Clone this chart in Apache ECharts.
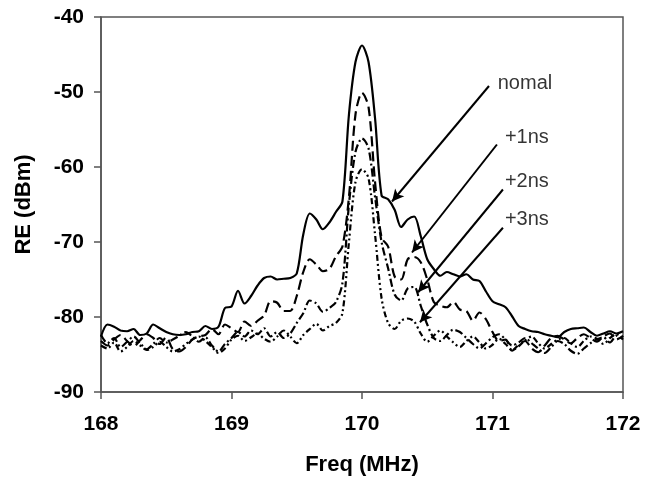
<!DOCTYPE html>
<html>
<head>
<meta charset="utf-8">
<script src="https://cdn.jsdelivr.net/npm/echarts@6/dist/echarts.min.js"></script>
<style>html,body{margin:0;padding:0;background:#fff;}#c{width:657px;height:481px;}</style>
</head>
<body>
<div id="c"></div>
<script>
var freq = [168.00,168.05,168.10,168.15,168.20,168.25,168.30,168.35,168.40,168.45,
168.50,168.55,168.60,168.65,168.70,168.75,168.80,168.85,168.90,168.95,
169.00,169.05,169.10,169.15,169.20,169.25,169.30,169.35,169.40,169.45,
169.50,169.55,169.60,169.65,169.70,169.75,169.80,169.85,169.90,169.95,
170.00,170.05,170.10,170.15,170.20,170.25,170.30,170.35,170.40,170.45,
170.50,170.55,170.60,170.65,170.70,170.75,170.80,170.85,170.90,170.95,
171.00,171.05,171.10,171.15,171.20,171.25,171.30,171.35,171.40,171.45,
171.50,171.55,171.60,171.65,171.70,171.75,171.80,171.85,171.90,171.95,172.00];

var normal = [-82.6,-81.0,-81.3,-81.8,-81.9,-81.6,-82.4,-82.2,-81.0,-81.5,
-82.0,-82.3,-82.4,-82.3,-82.0,-81.9,-81.2,-81.6,-81.3,-78.8,
-78.6,-76.5,-78.2,-77.2,-75.8,-74.8,-74.6,-75.0,-74.9,-74.8,
-74.2,-69.0,-66.2,-67.0,-68.3,-67.4,-66.0,-64.6,-53.0,-46.0,
-43.8,-46.0,-53.5,-63.8,-64.3,-65.7,-68.0,-67.0,-66.6,-69.2,
-72.3,-73.6,-74.5,-74.0,-74.3,-74.6,-74.3,-75.0,-75.2,-76.6,
-77.9,-78.3,-78.7,-79.9,-81.2,-81.6,-81.9,-82.0,-82.3,-82.5,
-82.7,-82.0,-81.6,-81.5,-81.4,-82.0,-82.5,-82.2,-81.9,-82.2,-81.9];

var ns1 = [-83.2,-83.8,-83.0,-82.4,-83.2,-83.9,-83.1,-82.3,-82.8,-83.6,
-82.7,-84.3,-84.6,-84.0,-83.0,-82.6,-82.4,-81.6,-82.3,-81.0,
-81.5,-82.0,-80.6,-81.2,-80.5,-79.8,-77.9,-78.1,-79.2,-79.2,
-77.2,-74.0,-72.3,-73.0,-73.9,-73.6,-71.9,-70.6,-64.0,-53.0,
-50.1,-52.0,-62.0,-69.4,-70.6,-74.6,-75.0,-72.3,-72.0,-72.7,
-75.0,-78.0,-78.5,-78.7,-78.0,-79.0,-79.2,-80.5,-79.4,-80.3,
-82.0,-83.2,-83.0,-84.5,-83.7,-83.2,-84.2,-84.7,-83.8,-82.8,
-82.5,-83.0,-83.5,-82.8,-82.3,-82.8,-83.3,-82.6,-82.2,-83.0,-82.5];

var ns2 = [-82.4,-83.5,-82.8,-84.0,-83.3,-82.6,-83.5,-84.3,-83.6,-82.8,
-83.4,-83.0,-82.5,-82.0,-82.6,-83.3,-82.7,-83.8,-84.6,-83.6,
-82.8,-82.0,-82.6,-81.8,-82.3,-81.5,-82.6,-82.0,-82.8,-82.2,
-80.8,-79.5,-77.8,-78.2,-79.3,-78.8,-78.0,-75.5,-65.0,-58.0,
-56.2,-57.5,-64.0,-70.0,-73.5,-77.0,-77.8,-76.2,-76.0,-78.5,
-81.0,-82.8,-83.2,-82.4,-81.7,-82.0,-82.8,-83.6,-84.2,-83.5,
-82.7,-82.3,-83.0,-83.8,-83.4,-82.8,-83.5,-84.2,-84.8,-84.0,
-83.2,-83.6,-84.5,-84.9,-84.2,-83.5,-83.0,-82.7,-83.4,-82.5,-83.0];

var ns3 = [-83.8,-84.2,-83.4,-84.6,-84.0,-83.2,-83.8,-84.4,-84.0,-83.3,
-84.0,-84.6,-84.3,-83.6,-83.0,-82.6,-83.2,-84.0,-84.8,-84.2,
-83.0,-82.5,-83.2,-82.7,-82.2,-82.9,-83.3,-82.6,-81.8,-82.6,
-83.5,-82.4,-81.6,-80.9,-81.8,-81.2,-80.8,-79.5,-70.0,-62.0,
-60.3,-61.5,-69.0,-77.5,-80.8,-81.6,-80.5,-80.2,-80.6,-82.2,
-83.3,-82.5,-81.8,-82.6,-83.4,-84.0,-83.2,-82.6,-83.4,-84.2,
-83.7,-82.9,-83.6,-84.4,-83.9,-83.1,-82.6,-83.5,-84.2,-83.6,
-83.0,-82.8,-83.5,-84.0,-83.2,-82.6,-82.9,-83.6,-82.8,-82.3,-82.7];

var annoText = ['nomal', '+1ns', '+2ns', '+3ns'];
var annoX = [171.04, 171.095, 171.095, 171.095];
var annoY = [-48.8, -56.0, -61.9, -67.0];
var arrowFrom = [[170.973, -49.2], [171.034, -57.0], [171.08, -63.0], [171.08, -68.1]];
var arrowTo = [[170.23, -64.6], [170.383, -71.4], [170.43, -76.7], [170.444, -80.7]];

var xTicks = [168, 169, 170, 171, 172];
var yTicks = [-90, -80, -70, -60, -50, -40];

function pairs(vals) { return freq.map(function (f, i) { return [f, vals[i]]; }); }

var FONT = '"Liberation Sans", Arial, sans-serif';
var AX = '#555';

var chart = echarts.init(document.getElementById('c'), null, { renderer: 'canvas' });

function lineSeries(name, vals, dash) {
  return {
    name: name, type: 'line', data: pairs(vals), showSymbol: false, smooth: 0.3,
    lineStyle: { color: '#000', width: 2.2, type: dash },
    animation: false
  };
}

chart.setOption({
  animation: false,
  backgroundColor: '#fff',
  grid: { left: 101, right: 34, top: 17, bottom: 88, show: true, borderColor: AX, borderWidth: 1.5, backgroundColor: 'transparent' },
  xAxis: {
    type: 'value', min: xTicks[0], max: xTicks[xTicks.length - 1], interval: 1,
    name: 'Freq (MHz)', nameLocation: 'middle', nameGap: 62,
    nameTextStyle: { fontFamily: FONT, fontWeight: 'bold', fontSize: 22, color: '#000' },
    axisLine: { lineStyle: { color: AX, width: 1.5 } },
    axisTick: { show: true, length: 7, inside: false, lineStyle: { color: AX, width: 1.5 } },
    axisLabel: { fontFamily: FONT, fontWeight: 'bold', fontSize: 21, color: '#000', margin: 22 },
    splitLine: { show: false }
  },
  yAxis: {
    type: 'value', min: yTicks[0], max: yTicks[yTicks.length - 1], interval: 10,
    name: 'RE (dBm)', nameLocation: 'middle', nameGap: 66, nameRotate: 90,
    nameTextStyle: { fontFamily: FONT, fontWeight: 'bold', fontSize: 22, color: '#000' },
    axisLine: { show: true, lineStyle: { color: AX, width: 1.5 } },
    axisTick: { show: true, length: 7, inside: false, lineStyle: { color: AX, width: 1.5 } },
    axisLabel: { fontFamily: FONT, fontWeight: 'bold', fontSize: 21, color: '#000', margin: 17 },
    splitLine: { show: false }
  },
  series: [
    lineSeries('nomal', normal, 'solid'),
    lineSeries('+1ns', ns1, [10, 5]),
    lineSeries('+2ns', ns2, [8, 3, 2, 3]),
    lineSeries('+3ns', ns3, [6, 3, 2, 3, 2, 3]),
    {
      name: 'annotations', type: 'scatter', symbolSize: 0, silent: true, clip: false,
      data: annoText.map(function (t, i) { return [annoX[i], annoY[i], t]; }),
      label: {
        show: true, position: 'right', distance: 0,
        formatter: function (p) { return p.data[2]; },
        fontFamily: FONT, fontSize: 20, color: '#000'
      },
      markLine: {
        silent: true, symbol: ['none', 'arrow'], symbolSize: [9, 12],
        label: { show: false },
        lineStyle: { color: '#000', width: 2, type: 'solid' },
        data: arrowFrom.map(function (a, i) { return [{ coord: a }, { coord: arrowTo[i] }]; }),
        animation: false
      }
    }
  ]
});
</script>
</body>
</html>
